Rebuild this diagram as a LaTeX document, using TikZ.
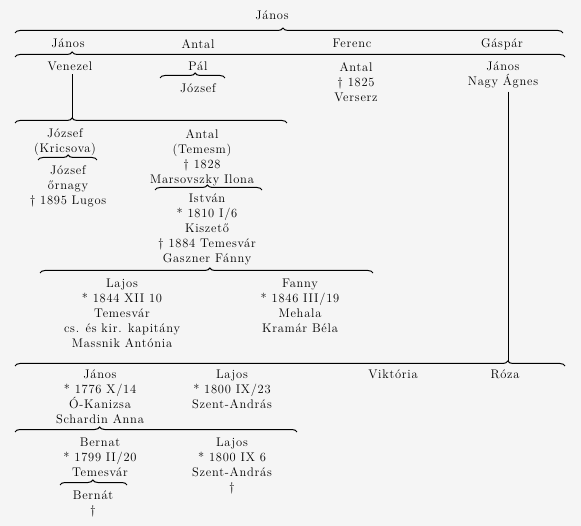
\documentclass[tikz,border=0pt]{standalone}
\usepackage{fontspec}
\setmainfont{Latin Modern Roman}[LetterSpace=6.0]
\usetikzlibrary{decorations.pathreplacing}

\begin{document}
\begin{tikzpicture}[x={(1pt,0pt)}, y={(0pt,-1pt)},
  person/.style={align=center, anchor=north, inner sep=0pt, font=\fontsize{12.5}{15}\selectfont},
  famline/.style={decorate, line width=1pt, decoration={brace, amplitude=5pt, aspect=#1}},
  link/.style={line width=1pt}]
  \fill[black!4] (0,0) rectangle (581,526);
  \useasboundingbox (0,0) rectangle (581,526);

  % Nodes
  \node[person] (Janos) at (272,11) {János};

  \node[person] (JanosA) at (68,39) {János};
  \node[person] (Antal) at (198,39) {Antal};
  \node[person] (Ferenc) at (352,39) {Ferenc};
  \node[person] (Gaspar) at (502,39) {Gáspár};

  \node[person] (Venezel) at (70,62) {Venezel};
  \node[person] (Pal) at (198,62) {Pál};
  \node[person] (JozsefP) at (198,84) {József};
  \node[person] (AntalF) at (356,62) {Antal\\\textdagger{} 1825\\Verserz};
  \node[person] (JanosG) at (503,62) {János\\Nagy Ágnes};

  \node[person] (JozsefV) at (65,129) {József\\(Kricsova)};
  \node[person] (AntalV) at (202,129) {Antal\\(Temesm)\\\textdagger{} 1828\\Marsovszky Ilona};
  \node[person] (JozsefK) at (68,166) {József\\őrnagy\\\textdagger{} 1895 Lugos};
  \node[person] (Istvan) at (207,194) {István\\* 1810 I/6\\Kiszető\\\textdagger{} 1884 Temesvár\\Gaszner Fánny};

  \node[person] (LajosI) at (122,279) {Lajos\\* 1844 XII 10\\Temesvár\\cs. és kir. kapitány\\Massnik Antónia};
  \node[person] (FannyI) at (300,279) {Fanny\\* 1846 III/19\\Mehala\\Kramár Béla};

  \node[person] (JanosJ) at (100,370) {János\\* 1776 X/14\\Ó-Kanizsa\\Schardin Anna};
  \node[person] (LajosJ) at (232,370) {Lajos\\* 1800 IX/23\\Szent-András};
  \node[person] (Viktoria) at (393,370) {Viktória};
  \node[person] (Roza) at (505,370) {Róza};

  \node[person] (Bernat) at (100,438) {Bernat\\* 1799 II/20\\Temesvár};
  \node[person] (LajosB) at (232,438) {Lajos\\* 1800 IX 6\\Szent-András\\\textdagger};
  \node[person] (BernatB) at (93,491) {Bernát\\\textdagger};

  % Brace ends
  \coordinate (b1w) at (15,33);  \coordinate (b1e) at (563,33);
  \coordinate (b2w) at (15,57);  \coordinate (b2e) at (565,57);
  \coordinate (bPw) at (160,78); \coordinate (bPe) at (225,78);
  \coordinate (b3w) at (15,123); \coordinate (b3e) at (287,123);
  \coordinate (bKw) at (38,160); \coordinate (bKe) at (97,160);
  \coordinate (bMw) at (155,190); \coordinate (bMe) at (262,190);
  \coordinate (b4w) at (40,273); \coordinate (b4e) at (373,273);
  \coordinate (b5w) at (15,366); \coordinate (b5e) at (565,366);
  \coordinate (b6w) at (15,432); \coordinate (b6e) at (297,432);
  \coordinate (b7w) at (60,485); \coordinate (b7e) at (127,485);
  \coordinate (t3) at (72,118);
  \coordinate (t5) at (508,361);

  % Braces
  \draw[famline=0.489] (b1w) -- (b1e);
  \draw[famline=0.104] (b2w) -- (b2e);
  \draw[famline=0.54] (bPw) -- (bPe);
  \draw[famline=0.21] (b3w) -- (b3e);
  \draw[famline=0.51] (bKw) -- (bKe);
  \draw[famline=0.49] (bMw) -- (bMe);
  \draw[famline=0.51] (b4w) -- (b4e);
  \draw[famline=0.896] (b5w) -- (b5e);
  \draw[famline=0.30] (b6w) -- (b6e);
  \draw[famline=0.49] (b7w) -- (b7e);

  % Lines
  \draw[link] (t3 |- Venezel.south) ++(0,3) -- (t3);
  \draw[link] (t5 |- JanosG.south) ++(0,3) -- (t5);
\end{tikzpicture}
\end{document}
